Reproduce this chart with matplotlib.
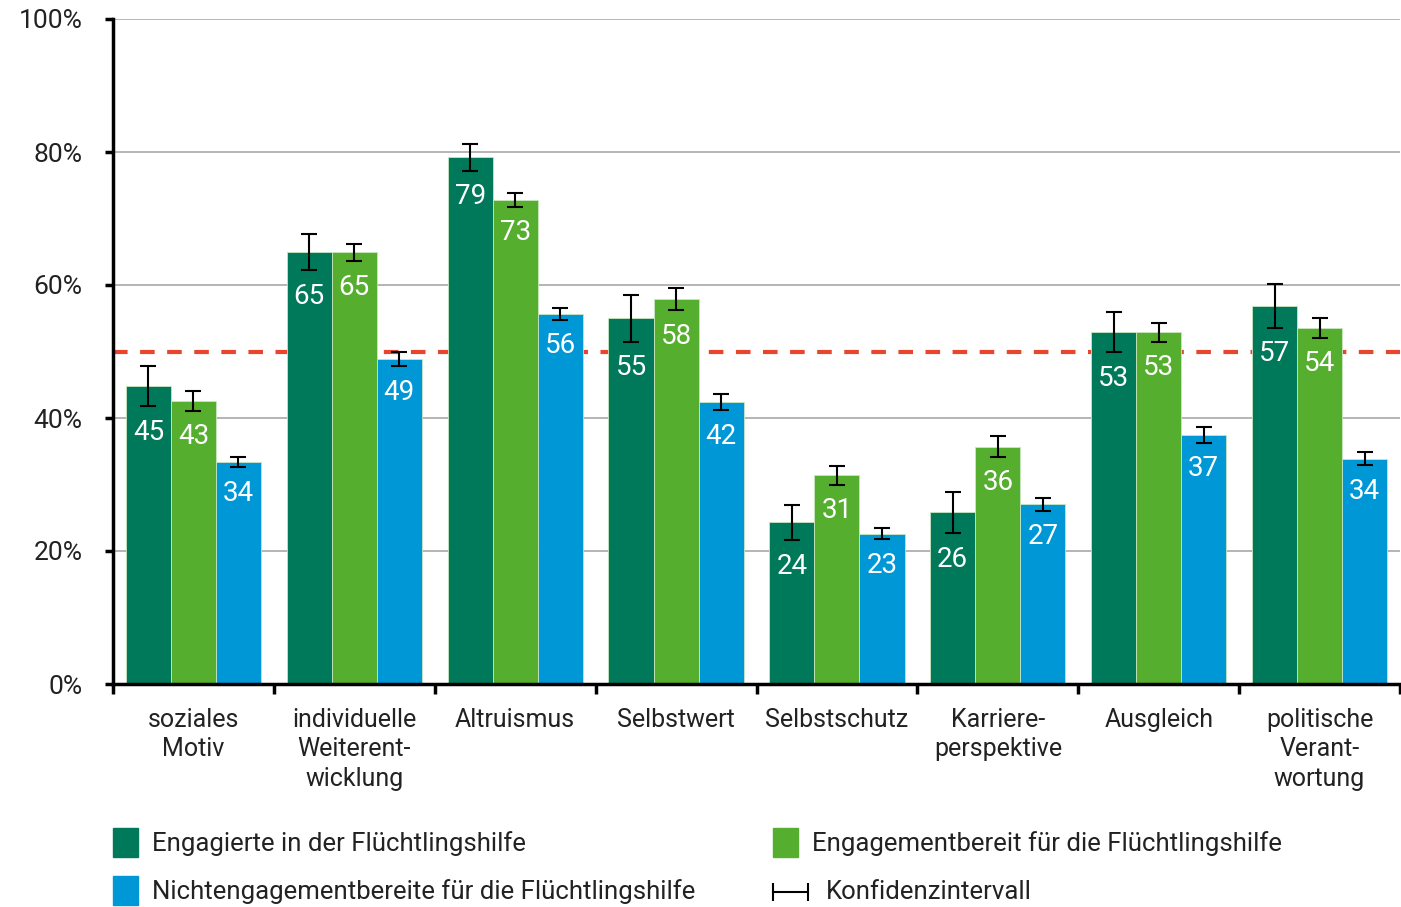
import matplotlib
matplotlib.use('Agg')
import numpy as np
import matplotlib.pyplot as plt
from matplotlib.patches import Rectangle
from matplotlib.lines import Line2D

plt.rcParams['font.family'] = ['Roboto', 'DejaVu Sans']

# Daten
kategorien = ['soziales\nMotiv', 'individuelle\nWeiterent-\nwicklung', 'Altruismus', 'Selbstwert',
              'Selbstschutz', 'Karriere-\nperspektive', 'Ausgleich', 'politische\nVerant-\nwortung']
engagierte = [44.8, 64.9, 79.2, 55.0, 24.3, 25.8, 52.9, 56.9]
engagierte_ki = [3.0, 2.7, 2.0, 3.5, 2.65, 3.1, 3.0, 3.3]
engagierte_lbl = [45, 65, 79, 55, 24, 26, 53, 57]
bereit = [42.6, 64.9, 72.8, 57.9, 31.4, 35.7, 52.9, 53.6]
bereit_ki = [1.5, 1.3, 1.0, 1.7, 1.4, 1.55, 1.4, 1.5]
bereit_lbl = [43, 65, 73, 58, 31, 36, 53, 54]
nicht = [33.4, 48.9, 55.7, 42.4, 22.6, 27.0, 37.5, 33.9]
nicht_ki = [0.8, 1.1, 0.9, 1.25, 0.85, 0.95, 1.2, 1.0]
nicht_lbl = [34, 49, 56, 42, 23, 27, 37, 34]
schwelle = 50

serien = ['Engagierte in der Flüchtlingshilfe', 'Engagementbereit für die Flüchtlingshilfe',
          'Nichtengagementbereite für die Flüchtlingshilfe']
farben = ['#00785a', '#56ae2f', '#0097d7']
TXT = '#222222'

fig = plt.figure(figsize=(14.01, 9.07), dpi=100)
ax = fig.add_axes([113 / 1401, 1 - 684 / 907, 1287 / 1401, 665 / 907])

x = np.arange(len(kategorien)) + 0.5
w = 0.28
for k, (vals, ki, lbl) in enumerate([(engagierte, engagierte_ki, engagierte_lbl),
                                     (bereit, bereit_ki, bereit_lbl),
                                     (nicht, nicht_ki, nicht_lbl)]):
    xs = x + (k - 1) * w
    ax.bar(xs, vals, width=w, color=farben[k], edgecolor='#c8e6c0', linewidth=0.6, zorder=3)
    ax.errorbar(xs, vals, yerr=ki, fmt='none', ecolor='black', elinewidth=1.5,
                capsize=5.5, capthick=1.5, zorder=4)
    for xi, v, e, t in zip(xs, vals, ki, lbl):
        ax.annotate(str(t), (xi, v - e), xytext=(0, -9), textcoords='offset points',
                    ha='center', va='top', color='white', fontsize=20, zorder=5)

ax.axhline(schwelle, color='#e8452c', lw=3, ls=(0, (3.5, 3)), zorder=2)

ax.set_xlim(0, len(kategorien))
ax.set_ylim(0, 100)
ax.set_yticks(range(0, 101, 20))
ax.set_yticklabels([f'{v}%' for v in range(0, 101, 20)], fontsize=19, color=TXT)
ax.set_xticks(range(0, len(kategorien) + 1))
ax.set_xticklabels([])
ax.set_xticks(x, minor=True)
ax.set_xticklabels(kategorien, minor=True, fontsize=18, color=TXT, linespacing=1.3)
ax.tick_params(axis='x', which='minor', length=0, pad=17)
ax.tick_params(axis='x', which='major', length=7, width=2.5, direction='out')
ax.tick_params(axis='y', length=6, width=2.5, direction='out', pad=16)
ax.yaxis.grid(True, color='#a8a8a8', lw=1.2, zorder=0)
for s in ['top', 'right']:
    ax.spines[s].set_visible(False)
for s in ['left', 'bottom']:
    ax.spines[s].set_linewidth(2.5)
    ax.spines[s].set_zorder(6)

# Legende
W, H = 1401, 907
pos = [(113, 828), (773, 828), (113, 876)]
for (px, py), c, name in zip(pos, farben, serien):
    fig.patches.append(Rectangle((px / W, 1 - (py + 29) / H), 25 / W, 29 / H,
                                 transform=fig.transFigure, color=c))
    fig.text((px + 39) / W, 1 - (py + 16) / H, name, fontsize=18.5, color=TXT, va='center')
fig.add_artist(Line2D([773 / W, 808 / W], [1 - 892 / H] * 2, color='black', lw=1.5,
                      marker='|', markersize=13, markeredgewidth=1.5, transform=fig.transFigure))
fig.text(826 / W, 1 - 892 / H, 'Konfidenzintervall', fontsize=18.5, color=TXT, va='center')

fig.savefig('out.png', dpi=100)
